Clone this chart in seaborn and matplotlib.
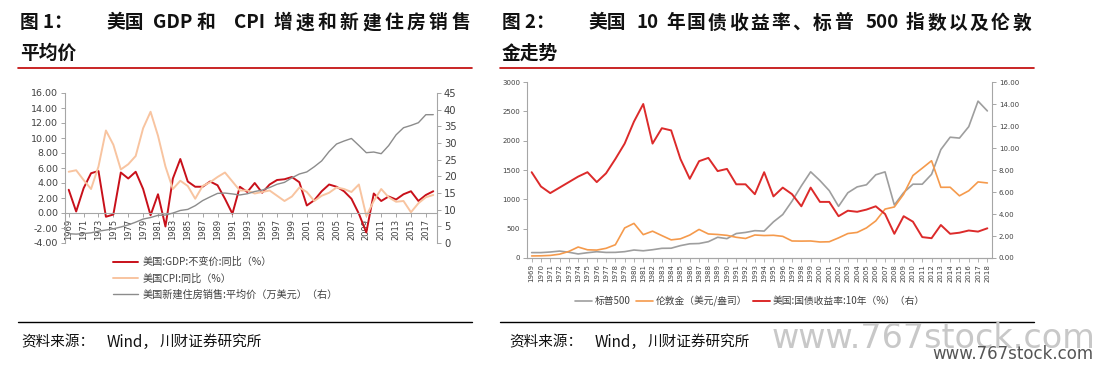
import matplotlib
matplotlib.use("Agg")
import matplotlib.pyplot as plt
import seaborn as sns
from matplotlib.lines import Line2D

# ---- data ----
years = list(range(1969, 2019))

# 美国 GDP 不变价同比 (%)
gdp = [3.1, 0.2, 3.3, 5.3, 5.6, -0.5, -0.2, 5.4, 4.6, 5.5,
       3.2, -0.3, 2.5, -1.8, 4.6, 7.2, 4.2, 3.5, 3.5, 4.2,
       3.7, 1.9, -0.1, 3.5, 2.8, 4.0, 2.7, 3.8, 4.4, 4.5,
       4.8, 4.1, 1.0, 1.7, 2.9, 3.8, 3.5, 2.9, 1.9, -0.1,
       -2.6, 2.6, 1.6, 2.2, 1.8, 2.5, 2.9, 1.6, 2.4, 2.9]
# 美国 CPI 同比 (%)
cpi = [5.5, 5.7, 4.4, 3.2, 6.2, 11.0, 9.1, 5.8, 6.5, 7.6,
       11.3, 13.5, 10.3, 6.2, 3.2, 4.3, 3.6, 1.9, 3.6, 4.1,
       4.8, 5.4, 4.2, 3.0, 3.0, 2.6, 2.8, 3.0, 2.3, 1.6,
       2.2, 3.4, 2.8, 1.6, 2.3, 2.7, 3.4, 3.2, 2.8, 3.8,
       -0.4, 1.6, 3.2, 2.1, 1.5, 1.6, 0.1, 1.3, 2.1, 2.4]
# 新建住房销售平均价 (万美元)
house_price = [2.79, 2.66, 2.83, 3.05, 3.55, 3.89, 4.26, 4.80, 5.42, 6.25,
               7.18, 7.64, 8.30, 8.39, 8.98, 9.76, 10.08, 11.19, 12.72, 13.83,
               14.88, 14.98, 14.72, 14.41, 14.77, 15.45, 15.87, 16.64, 17.62, 18.19,
               19.56, 20.70, 21.32, 22.87, 24.63, 27.45, 29.70, 30.59, 31.36, 29.26,
               27.09, 27.29, 26.79, 29.22, 32.45, 34.58, 35.27, 36.09, 38.49, 38.50]

# 标普500
sp500 = [92, 92, 102, 118, 98, 69, 90, 107, 95, 96,
         108, 136, 123, 141, 165, 167, 211, 242, 247, 278,
         353, 330, 417, 436, 466, 459, 616, 741, 970, 1229,
         1469, 1320, 1148, 880, 1112, 1212, 1248, 1418, 1468, 903,
         1115, 1258, 1258, 1426, 1848, 2059, 2044, 2239, 2674, 2507]
# 伦敦金 (美元/盎司)
gold = [35, 37, 44, 65, 112, 187, 140, 135, 165, 226,
        512, 590, 398, 457, 382, 309, 327, 391, 487, 410,
        401, 386, 353, 333, 392, 383, 387, 369, 290, 288,
        290, 273, 277, 343, 417, 436, 513, 632, 834, 870,
        1088, 1406, 1531, 1658, 1205, 1206, 1060, 1146, 1297, 1279]
# 美国10年国债收益率 (%)
ust10y = [7.8, 6.5, 5.9, 6.4, 6.9, 7.4, 7.8, 6.9, 7.7, 9.0,
          10.4, 12.4, 14.0, 10.4, 11.8, 11.6, 9.0, 7.2, 8.8, 9.1,
          7.9, 8.1, 6.7, 6.7, 5.8, 7.8, 5.6, 6.4, 5.8, 4.7,
          6.4, 5.1, 5.1, 3.8, 4.3, 4.2, 4.4, 4.7, 4.0, 2.2,
          3.8, 3.3, 1.9, 1.8, 3.0, 2.2, 2.3, 2.5, 2.4, 2.7]

left_ticks = list(range(-4, 17, 2))
left_ticks_r = list(range(0, 46, 5))
right_ticks = list(range(0, 3001, 500))
right_ticks_r = list(range(0, 17, 2))

W, H = 1106, 369


def fx(px):
    return px / W


def fy(py):
    return 1 - py / H


def rect(x0, y0, x1, y1):
    return [fx(x0), fy(y1), (x1 - x0) / W, (y1 - y0) / H]


sns.set_style("white")
plt.rcParams['font.family'] = ['Noto Sans CJK SC', 'DejaVu Sans']
plt.rcParams['axes.unicode_minus'] = False

fig = plt.figure(figsize=(W / 100, H / 100), dpi=100)

SPINE = '#A6A6A6'
TXT = '#404040'


def style_axes(ax):
    ax.set_xlabel('')
    ax.set_ylabel('')
    for s in ax.spines.values():
        s.set_color(SPINE)
        s.set_linewidth(0.8)
    ax.spines['top'].set_visible(False)
    leg = ax.get_legend()
    if leg:
        leg.remove()


# ---- left chart ----
ax1 = fig.add_axes(rect(65, 93, 437, 243))
ax2 = ax1.twinx()
sns.lineplot(x=years, y=gdp, ax=ax1, color='#C8101A', linewidth=1.4,
             label='美国:GDP:不变价:同比（%）', legend=False)
sns.lineplot(x=years, y=cpi, ax=ax1, color='#F8C4A0', linewidth=1.4,
             label='美国CPI:同比（%）', legend=False)
sns.lineplot(x=years, y=house_price, ax=ax2, color='#8C8C8C', linewidth=1.0,
             label='美国新建住房销售:平均价（万美元）（右）', legend=False)
for ax in (ax1, ax2):
    style_axes(ax)
    ax.set_xlim(1968.5, 2018.5)
ax1.spines['right'].set_visible(False)
ax1.spines['bottom'].set_position(('data', 0))
ax2.spines['left'].set_visible(False)
ax2.spines['bottom'].set_visible(False)

ax1.set_ylim(-4, 16)
ax1.set_yticks(left_ticks, [f"{v:.2f}" for v in left_ticks],
               fontfamily='DejaVu Sans', fontsize=6.8, color=TXT)
ax2.set_ylim(0, 45)
ax2.set_yticks(left_ticks_r, [str(v) for v in left_ticks_r],
               fontfamily='DejaVu Sans', fontsize=7.2, color=TXT)
ax1.set_xticks(years[::2], [str(y) for y in years[::2]], rotation=90,
               fontfamily='DejaVu Sans', fontsize=6, color=TXT)
ax1.tick_params(axis='y', left=True, length=3, width=0.7, color=SPINE, pad=2)
ax2.tick_params(axis='y', right=True, length=3, width=0.7, color=SPINE, pad=2)
ax1.tick_params(axis='x', bottom=True, length=3, width=0.7, color=SPINE, pad=1)

h1, l1 = ax1.get_legend_handles_labels()
h2, l2 = ax2.get_legend_handles_labels()
fig.legend(h1 + h2, l1 + l2, loc='upper left', bbox_to_anchor=(fx(113), fy(257)),
           frameon=False, fontsize=7.3, handlelength=2.5, handletextpad=0.4,
           labelspacing=0.6, borderpad=0, borderaxespad=0, labelcolor=TXT)

# ---- right chart ----
ax3 = fig.add_axes(rect(527, 82, 992, 258))
ax4 = ax3.twinx()
sns.lineplot(x=years, y=sp500, ax=ax3, color='#9E9E9E', linewidth=1.2,
             label='标普500', legend=False)
sns.lineplot(x=years, y=gold, ax=ax3, color='#F59A4C', linewidth=1.2,
             label='伦敦金（美元/盎司）', legend=False)
sns.lineplot(x=years, y=ust10y, ax=ax4, color='#DC2A2A', linewidth=1.4,
             label='美国:国债收益率:10年（%）（右）', legend=False)
for ax in (ax3, ax4):
    style_axes(ax)
    ax.set_xlim(1968.5, 2018.5)
ax3.spines['right'].set_visible(False)
ax4.spines['left'].set_visible(False)

ax3.set_ylim(0, 3000)
ax3.set_yticks(right_ticks, [str(v) for v in right_ticks],
               fontfamily='DejaVu Sans', fontsize=5, color=TXT)
ax4.set_ylim(0, 16)
ax4.set_yticks(right_ticks_r, [f"{v:.2f}" for v in right_ticks_r],
               fontfamily='DejaVu Sans', fontsize=5, color=TXT)
ax3.set_xticks(years, [str(y) for y in years], rotation=90,
               fontfamily='DejaVu Sans', fontsize=5, color=TXT)
ax3.tick_params(axis='y', left=True, length=3, width=0.7, color=SPINE, pad=2)
ax4.tick_params(axis='y', right=True, length=3, width=0.7, color=SPINE, pad=2)
ax3.tick_params(axis='x', bottom=True, length=3, width=0.6, color=SPINE, pad=1.5)

h3, l3 = ax3.get_legend_handles_labels()
h4, l4 = ax4.get_legend_handles_labels()
fig.legend(h3 + h4, l3 + l4, loc='center', bbox_to_anchor=(fx(750), fy(301)),
           ncol=3, frameon=False, fontsize=7, handlelength=1.7, handletextpad=0.3,
           columnspacing=0.6, borderpad=0, borderaxespad=0, labelcolor=TXT)


# ---- titles, rules, source ----
def put(x, y, s, size, step=None, **kw):
    if step is None:
        fig.text(fx(x), fy(y), s, fontsize=size, ha='left', va='center', **kw)
    else:
        for i, ch in enumerate(s):
            fig.text(fx(x + i * step), fy(y), ch, fontsize=size,
                     ha='left', va='center', **kw)


TSZ = 13.5
tkw = dict(fontweight='bold', color='#111111')
put(20, 23, '图 1：', TSZ, **tkw)
put(106, 23, '美国', TSZ, **tkw)
put(153, 23, 'GDP', TSZ, **tkw)
put(197, 23, '和', TSZ, **tkw)
put(234, 23, 'CPI', TSZ, **tkw)
put(273, 23, '增速和新建住房销售', TSZ, step=22.3, **tkw)
put(20, 53, '平均价', TSZ, **tkw)

put(502, 23, '图 2：', TSZ, **tkw)
put(588, 23, '美国', TSZ, **tkw)
put(636, 23, '10', TSZ, **tkw)
put(666, 23, '年国债收益率、标普', TSZ, step=21.0, **tkw)
put(866, 23, '500', TSZ, **tkw)
put(906, 23, '指数以及伦敦', TSZ, step=21.3, **tkw)
put(502, 53, '金走势', TSZ, **tkw)

for x0, x1 in ((18, 472), (500, 1034)):
    fig.add_artist(Line2D([fx(x0), fx(x1)], [fy(68), fy(68)],
                          color='#C00000', linewidth=1.2))
    fig.add_artist(Line2D([fx(x0), fx(x1)], [fy(322), fy(322)],
                          color='#000000', linewidth=1.0))

skw = dict(style='italic', color='#111111')
for off in (0, 488):
    put(21 + off, 342, '资料来源：', 10.5, **skw)
    put(107 + off, 342, 'Wind，', 11, **skw)
    put(160 + off, 342, '川财证券研究所', 10.5, **skw)

# watermark
fig.text(fx(772), fy(348), 'www.767stock.com', fontsize=24, color='#C8C8C8',
         fontfamily='DejaVu Sans', ha='left', va='baseline')
fig.text(fx(932), fy(359), 'www.767stock.com', fontsize=12, color='#555555',
         fontfamily='DejaVu Sans', ha='left', va='baseline')

fig.savefig('out.png', dpi=100, facecolor='white')
